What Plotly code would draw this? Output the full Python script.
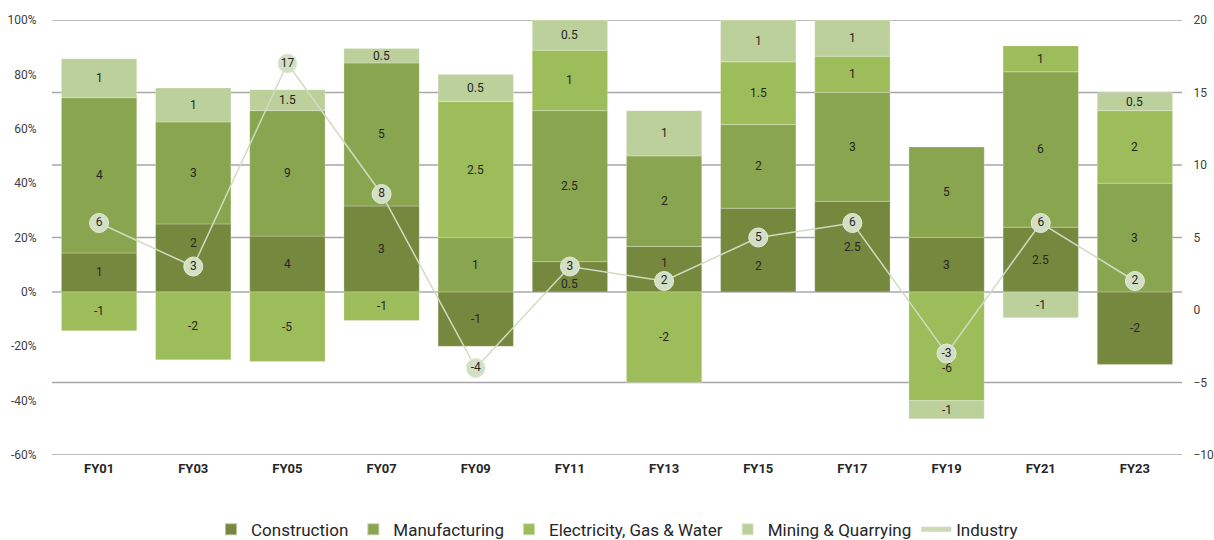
import numpy as np
import plotly.graph_objects as go

years = ["FY01", "FY03", "FY05", "FY07", "FY09", "FY11",
         "FY13", "FY15", "FY17", "FY19", "FY21", "FY23"]

construction = [1, 2, 4, 3, -1, 0.5, 1, 2, 2.5, 3, 2.5, -2]
manufacturing = [4, 3, 9, 5, 1, 2.5, 2, 2, 3, 5, 6, 3]
electricity = [-1, -2, -5, -1, 2.5, 1, -2, 1.5, 1, -6, 1, 2]
mining = [1, 1, 1.5, 0.5, 0.5, 0.5, 1, 1, 1, -1, -1, 0.5]
industry = [6, 3, 17, 8, -4, 3, 2, 5, 6, -3, 6, 2]

left_ticks = [100, 80, 60, 40, 20, 0, -20, -40, -60]
right_ticks = [20, 15, 10, 5, 0, -5, -10]

series = [
    ("Construction", construction, "#76883e"),
    ("Manufacturing", manufacturing, "#8aa54f"),
    ("Electricity, Gas & Water", electricity, "#9dbc5a"),
    ("Mining & Quarrying", mining, "#bbd09a"),
]

# labels nudged (in px) so they clear the Industry markers
label_nudge = {("Construction", "FY03"): 15, ("Construction", "FY11"): -7,
               ("Construction", "FY13"): 6, ("Construction", "FY15"): -16,
               ("Electricity, Gas & Water", "FY19"): -22}

# share of each sector in the sum of absolute contributions
abs_total = sum(np.abs(np.array(v, dtype=float)) for _, v, _ in series)

FONT = "Roboto, 'DejaVu Sans', sans-serif"
fig = go.Figure()

pos_base = np.zeros(len(years))
neg_base = np.zeros(len(years))
annotations = []
for name, vals, color in series:
    v = np.array(vals, dtype=float)
    share = v / abs_total * 100
    fig.add_trace(go.Bar(
        x=years, y=share, name=name,
        marker=dict(color=color, line=dict(color="rgba(255,255,255,0.5)", width=0.5)),
        hoverinfo="skip",
    ))
    # segment midpoints following the relative stacking
    base = np.where(share >= 0, pos_base, neg_base)
    mids = base + share / 2
    for i, yr in enumerate(years):
        annotations.append(dict(
            x=yr, y=mids[i], xref="x", yref="y", text=f"{v[i]:g}",
            showarrow=False, yshift=label_nudge.get((name, yr), 0),
            font=dict(family=FONT, size=12, color="#262626"),
        ))
    pos_base = pos_base + np.where(share > 0, share, 0)
    neg_base = neg_base + np.where(share < 0, share, 0)

fig.add_trace(go.Scatter(
    x=years, y=industry, yaxis="y2", name="Industry",
    mode="lines+markers+text",
    line=dict(color="#d0dcc0", width=1.5),
    marker=dict(size=19, color="#d3dfc4", line=dict(width=1, color="#e4ecd9")),
    text=[f"{x:g}" for x in industry], textposition="middle center",
    textfont=dict(family=FONT, size=12, color="#262626"),
    showlegend=False, cliponaxis=False,
))
# legend entry for the line series (line swatch only)
fig.add_trace(go.Scatter(
    x=[None], y=[None], yaxis="y2", name="Industry", mode="lines",
    line=dict(color="#cbdab7", width=2),
))

# horizontal grid on the secondary scale, skipping its zero
for t in right_ticks:
    if t == 0:
        continue
    fig.add_shape(type="line", xref="paper", x0=0, x1=1, yref="y2", y0=t, y1=t,
                  line=dict(color="#a6a6a6", width=1.5), layer="below")

fig.update_layout(
    width=1214, height=540,
    margin=dict(l=52, r=32, t=20, b=85, autoexpand=False),
    paper_bgcolor="white", plot_bgcolor="white",
    barmode="relative", bargap=0.2,
    font=dict(family=FONT, size=12, color="#404040"),
    annotations=annotations,
    xaxis=dict(
        range=[-0.5, len(years) - 0.5],
        showgrid=False, zeroline=False, showline=False,
        ticks="outside", ticklen=1, tickcolor="rgba(0,0,0,0)",
        tickfont=dict(family=FONT, size=13, color="#262626", weight="bold"),
    ),
    yaxis=dict(
        range=[-60, 100], tickvals=left_ticks,
        ticktext=[f"{t}%" for t in left_ticks],
        showgrid=False, zeroline=True, zerolinecolor="#bfbfbf", zerolinewidth=2,
        ticks="outside", ticklen=12, tickcolor="rgba(0,0,0,0)",
        tickfont=dict(family=FONT, size=12, color="#404040"),
    ),
    yaxis2=dict(
        range=[-10, 20], tickvals=right_ticks, overlaying="y", side="right",
        showgrid=False, zeroline=False,
        ticks="outside", ticklen=8, tickcolor="rgba(0,0,0,0)",
        tickfont=dict(family=FONT, size=12, color="#404040"),
    ),
    legend=dict(
        orientation="h", x=0.5, xanchor="center", y=-0.172, yanchor="middle",
        font=dict(family=FONT, size=17, color="#262626"),
        itemsizing="constant", traceorder="normal", itemwidth=30,
    ),
)

fig.write_html("out.html")
